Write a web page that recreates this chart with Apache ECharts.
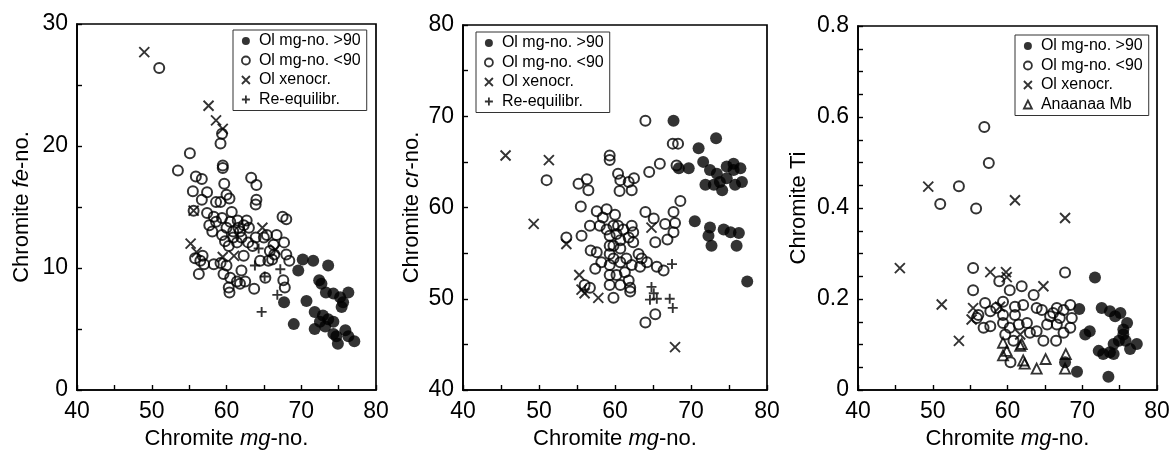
<!DOCTYPE html>
<html><head><meta charset="utf-8">
<script src="https://cdn.jsdelivr.net/npm/echarts@6/dist/echarts.min.js"></script>
<style>html,body{margin:0;padding:0;background:#fff}#c{width:1174px;height:455px}</style>
</head><body><div id="c"></div>
<script>
// ---------- Panel 1: Chromite mg-no. vs fe-no. ----------
const p1High = [[70.2,10.7],[71.6,10.6],[73.6,10.2],[69.6,9.8],[72.4,9.0],[72.7,8.7],[73.3,8.0],[74.3,7.9],[75.2,7.6],[76.3,8.0],[75.6,7.2],[75.4,6.8],[70.7,7.3],[67.7,7.2],[71.8,6.4],[72.9,6.1],[73.6,5.8],[72.5,5.6],[74.3,5.6],[73.2,5.2],[71.8,5.0],[69.0,5.4],[74.3,4.6],[75.9,4.9],[74.7,4.4],[76.3,4.4],[74.9,3.8],[77.1,4.0]];
const p1Low = [[51.0,26.4],[59.4,21.0],[59.2,20.2],[55.1,19.4],[53.5,18.0],[59.5,18.4],[59.5,18.2],[55.9,17.5],[56.7,17.3],[63.3,17.4],[64.0,16.8],[59.7,16.9],[55.5,16.3],[57.4,16.2],[60.0,16.0],[60.4,15.7],[56.7,15.6],[58.6,15.4],[59.2,15.4],[64.0,15.6],[63.9,15.2],[57.4,14.5],[60.7,14.6],[58.3,14.2],[59.4,14.1],[58.6,13.8],[60.5,13.8],[57.7,13.5],[61.5,13.9],[62.7,13.9],[63.0,13.3],[62.3,13.5],[60.0,13.3],[60.9,13.0],[61.6,13.3],[58.1,13.0],[59.4,12.7],[60.9,12.5],[61.8,13.0],[62.0,12.5],[59.8,12.2],[60.3,11.8],[63.9,12.5],[65.0,12.5],[65.4,12.7],[66.7,12.7],[67.5,14.2],[68.0,14.0],[67.7,12.1],[66.3,11.9],[65.8,11.4],[66.4,11.1],[66.1,10.7],[68.0,11.1],[68.4,10.6],[65.6,10.6],[64.5,10.6],[59.2,10.4],[58.3,10.3],[57.0,10.3],[56.5,10.6],[55.8,10.8],[56.8,11.0],[56.3,9.5],[59.6,9.5],[60.0,10.2],[60.5,9.2],[60.3,8.4],[60.4,8.0],[61.4,8.9],[62.0,9.8],[62.3,11.0],[62.5,8.9],[61.8,8.7],[63.7,8.3],[65.2,9.2],[67.6,9.0],[67.8,8.4],[61.4,12.1],[62.9,12.1],[63.5,11.8],[55.6,14.7]];
const p1Xeno = [[49.0,27.7],[57.6,23.3],[58.6,22.1],[59.5,21.4],[55.6,14.7],[55.2,12.0],[56.0,11.3],[59.5,10.9],[61.0,11.0],[64.8,13.3],[66.5,11.5]];
const p1Reeq = [[64.7,6.4],[66.8,7.8],[67.2,9.9],[63.8,10.2],[64.3,11.6],[65.1,9.3]];

// ---------- Panel 2: Chromite mg-no. vs cr-no. ----------
const p2High = [[67.7,69.5],[73.3,67.6],[71.0,66.5],[68.4,64.3],[69.7,64.3],[71.6,65.0],[72.5,64.1],[73.4,63.7],[74.7,64.5],[75.6,64.1],[76.5,64.3],[75.6,64.8],[71.9,62.5],[73.0,62.5],[74.1,61.9],[75.8,62.5],[76.7,62.8],[74.7,63.2],[73.8,62.8],[70.5,58.5],[72.5,57.8],[72.3,56.9],[72.7,55.8],[74.3,57.6],[75.2,57.3],[76.3,57.2],[76.0,55.8],[77.4,51.9]];
const p2Low = [[64.0,69.5],[67.6,67.0],[68.3,67.0],[59.3,65.7],[59.3,65.2],[65.9,64.8],[64.5,63.9],[68.1,64.6],[51.0,63.0],[55.2,62.6],[56.3,63.1],[56.5,61.9],[60.4,63.7],[60.7,63.0],[60.6,61.8],[61.8,62.8],[62.5,63.2],[62.2,61.9],[55.5,60.1],[68.6,60.7],[64.0,59.5],[57.6,59.6],[58.9,59.8],[60.0,59.2],[65.1,58.8],[67.7,59.5],[67.9,58.3],[66.6,58.2],[67.7,57.3],[66.9,56.5],[65.3,56.2],[56.7,58.0],[58.4,58.9],[58.0,58.0],[58.9,57.6],[59.8,58.0],[60.4,58.0],[61.1,57.6],[62.2,58.0],[62.4,57.3],[59.3,56.9],[60.2,57.1],[60.7,56.4],[61.8,56.7],[62.4,56.2],[55.6,56.9],[53.6,56.7],[59.8,55.8],[56.8,55.3],[57.6,55.1],[58.2,54.0],[57.4,53.3],[59.3,54.9],[59.8,54.4],[59.3,53.7],[60.7,54.0],[61.5,54.4],[63.1,54.9],[63.5,54.4],[64.2,54.0],[63.3,53.5],[62.2,53.7],[65.5,53.5],[66.4,53.1],[59.3,52.6],[60.2,52.6],[61.3,52.9],[61.8,52.0],[62.0,51.2],[60.7,51.5],[59.3,51.5],[59.8,50.1],[56.0,51.5],[56.7,51.2],[64.0,47.4],[65.3,48.3],[62.0,50.8],[60.7,55.5],[59.3,55.8]];
const p2Xeno = [[45.6,65.7],[51.3,65.2],[49.3,58.2],[53.6,56.0],[55.3,52.6],[55.6,51.0],[56.0,50.6],[57.8,50.1],[64.8,57.8],[67.9,44.7]];
const p2Reeq = [[67.5,53.8],[64.8,51.3],[65.1,50.6],[64.6,49.9],[65.5,50.0],[67.2,50.0],[67.6,49.0]];

// ---------- Panel 3: Chromite mg-no. vs Ti ----------
const p3High = [[71.7,0.247],[69.6,0.178],[72.6,0.180],[73.7,0.173],[75.1,0.169],[76.0,0.147],[74.4,0.162],[75.5,0.133],[75.5,0.122],[70.4,0.122],[71.0,0.129],[72.2,0.086],[72.8,0.079],[73.7,0.083],[74.2,0.101],[74.9,0.108],[76.4,0.090],[77.3,0.101],[75.8,0.108],[74.2,0.079],[67.7,0.061],[69.3,0.040],[73.5,0.029]];
const p3Low = [[56.9,0.578],[57.5,0.499],[53.5,0.448],[51.0,0.409],[55.8,0.399],[55.4,0.268],[67.7,0.258],[55.4,0.219],[58.9,0.239],[61.9,0.228],[63.5,0.209],[60.3,0.219],[57.0,0.191],[56.1,0.165],[57.7,0.173],[58.5,0.180],[59.4,0.194],[61.0,0.183],[62.1,0.187],[63.9,0.180],[64.6,0.176],[66.6,0.180],[67.5,0.176],[68.4,0.187],[65.7,0.162],[67.0,0.158],[68.6,0.158],[65.3,0.144],[68.4,0.137],[64.8,0.108],[66.5,0.108],[67.5,0.126],[63.0,0.126],[63.9,0.129],[60.8,0.108],[60.4,0.061],[56.8,0.137],[57.7,0.140],[59.4,0.147],[55.9,0.158],[61.5,0.144],[62.6,0.147],[59.7,0.122],[66.6,0.144],[60.3,0.137],[66.1,0.169],[59.4,0.165],[61.0,0.165]];
const p3Xeno = [[45.6,0.268],[49.4,0.447],[51.2,0.188],[53.5,0.108],[61.0,0.417],[67.7,0.378],[57.7,0.259],[59.8,0.259],[59.9,0.248],[64.8,0.228],[55.4,0.180],[55.2,0.155],[59.0,0.183],[61.7,0.122]];
const p3Anaa = [[59.4,0.076],[59.9,0.086],[59.4,0.104],[61.9,0.101],[62.1,0.065],[62.3,0.058],[63.9,0.047],[65.1,0.068],[67.8,0.079],[67.7,0.047],[61.7,0.097]];

const xTicks = [40, 50, 60, 70, 80];
const names = ['Ol mg-no. >90', 'Ol mg-no. <90', 'Ol xenocr.', 'Re-equilibr.', 'Anaanaa Mb'];

const FONT = 'Liberation Sans, Arial, Helvetica, sans-serif';
const X_PATH = 'path://M0,0L10,10M10,0L0,10';
const PLUS_PATH = 'path://M5,0L5,10M0,5L10,5';

const styles = {
  high: {symbol: 'circle', symbolSize: 12, itemStyle: {color: '#000', borderColor: '#000', borderWidth: 0}},
  low: {symbol: 'circle', symbolSize: 10, itemStyle: {color: 'rgba(0,0,0,0)', borderColor: '#000', borderWidth: 2}},
  xeno: {symbol: X_PATH, symbolSize: 10, itemStyle: {color: 'rgba(0,0,0,0)', borderColor: '#000', borderWidth: 1.9}},
  reeq: {symbol: PLUS_PATH, symbolSize: 10, itemStyle: {color: 'rgba(0,0,0,0)', borderColor: '#000', borderWidth: 1.9}},
  anaa: {symbol: 'triangle', symbolSize: 10, itemStyle: {color: 'rgba(0,0,0,0)', borderColor: '#000', borderWidth: 1.9}}
};

function ser(name, data, st, idx) {
  return Object.assign({type: 'scatter', name: name, data: data, xAxisIndex: idx, yAxisIndex: idx,
    emphasis: {disabled: true}, silent: true}, JSON.parse(JSON.stringify(st)));
}

const grids = [
  {left: 77, top: 24, width: 299, height: 370},
  {left: 463, top: 25, width: 304, height: 372},
  {left: 858, top: 26, width: 299, height: 371}
].map(g => Object.assign({show: true, borderColor: '#000', borderWidth: 1.7, backgroundColor: 'transparent'}, g));

function xAx(i) {
  return {type: 'value', gridIndex: i, min: xTicks[0], max: xTicks[xTicks.length - 1], interval: 10,
    name: 'Chromite {i|mg}-no.', nameLocation: 'middle', nameGap: 38,
    nameTextStyle: {fontSize: 22, fontFamily: FONT, color: '#000', rich: {i: {fontSize: 22, fontFamily: FONT, fontStyle: 'italic', color: '#000'}}},
    axisLine: {show: true, lineStyle: {color: '#000', width: 1.7}},
    axisTick: {show: true, inside: true, length: 5, lineStyle: {color: '#000', width: 1.4}},
    minorTick: {show: true, splitNumber: 2, length: 5, lineStyle: {color: '#000', width: 1.4}},
    axisLabel: {fontSize: 23, fontFamily: FONT, color: '#000', margin: 10},
    splitLine: {show: false}};
}
function yAx(i, min, max, interval, minorSplit, name, gap, rich) {
  return {type: 'value', gridIndex: i, min: min, max: max, interval: interval,
    name: name, nameLocation: 'middle', nameGap: gap,
    nameTextStyle: {fontSize: 22, fontFamily: FONT, color: '#000', rich: rich ? {i: {fontSize: 22, fontFamily: FONT, fontStyle: 'italic', color: '#000'}} : undefined},
    axisLine: {show: true, lineStyle: {color: '#000', width: 1.7}},
    axisTick: {show: true, inside: true, length: 5, lineStyle: {color: '#000', width: 1.4}},
    minorTick: {show: true, splitNumber: minorSplit, length: 5, lineStyle: {color: '#000', width: 1.4}},
    axisLabel: {fontSize: 23, fontFamily: FONT, color: '#000', margin: 9},
    splitLine: {show: false}};
}

function legendData(keys) {
  return keys.map(k => {
    const st = styles[k[1]];
    const is = Object.assign({}, st.itemStyle);
    if (is.borderWidth) is.borderWidth = 1.8;
    return {name: names[k[0]], icon: st.symbol, itemStyle: is};
  });
}
function legend(left, top, keys) {
  return {orient: 'vertical', left: left, top: top, selectedMode: false,
    borderColor: '#333', borderWidth: 1, padding: [3, 6, 3, 8], itemGap: 3.5,
    itemWidth: 8, itemHeight: 8, backgroundColor: '#fff',
    textStyle: {fontSize: 16, fontFamily: FONT, color: '#000', padding: [0, 0, 0, 4]},
    data: legendData(keys)};
}

const option = {
  animation: false,
  backgroundColor: '#fff',
  grid: grids,
  xAxis: [xAx(0), xAx(1), xAx(2)],
  yAxis: [
    yAx(0, 0, 30, 10, 2, 'Chromite {i|fe}-no.', 44, true),
    yAx(1, 40, 80, 10, 2, 'Chromite {i|cr}-no.', 40, true),
    yAx(2, 0, 0.8, 0.2, 4, 'Chromite Ti', 48, false)
  ],
  legend: [
    legend(233, 30, [[0, 'high'], [1, 'low'], [2, 'xeno'], [3, 'reeq']]),
    legend(476, 32, [[0, 'high'], [1, 'low'], [2, 'xeno'], [3, 'reeq']]),
    legend(1015, 35, [[0, 'high'], [1, 'low'], [2, 'xeno'], [4, 'anaa']])
  ],
  series: [
    ser(names[1], p1Low, styles.low, 0),
    ser(names[0], p1High, styles.high, 0),
    ser(names[2], p1Xeno, styles.xeno, 0),
    ser(names[3], p1Reeq, styles.reeq, 0),
    ser(names[1], p2Low, styles.low, 1),
    ser(names[0], p2High, styles.high, 1),
    ser(names[2], p2Xeno, styles.xeno, 1),
    ser(names[3], p2Reeq, styles.reeq, 1),
    ser(names[1], p3Low, styles.low, 2),
    ser(names[0], p3High, styles.high, 2),
    ser(names[2], p3Xeno, styles.xeno, 2),
    ser(names[4], p3Anaa, styles.anaa, 2)
  ]
};
const chart = echarts.init(document.getElementById('c'), null, {renderer: 'canvas'});
chart.setOption(option);
</script></body></html>
